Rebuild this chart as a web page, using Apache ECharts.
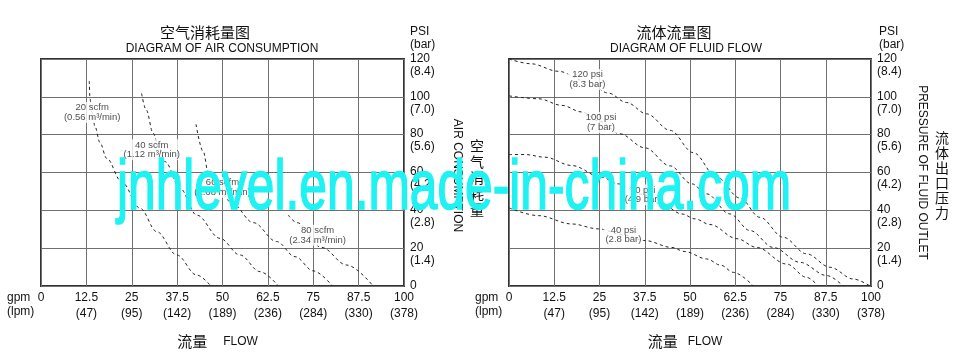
<!DOCTYPE html>
<html>
<head>
<meta charset="utf-8">
<script src="https://cdn.jsdelivr.net/npm/echarts@6/dist/echarts.min.js"></script>
<style>
html,body{margin:0;padding:0;background:#fff;}
#c{width:961px;height:355px;}
</style>
</head>
<body>
<div id="c"></div>
<script>
// ---- tick labels ----
const gpmTicks = [0, 12.5, 25, 37.5, 50, 62.5, 75, 87.5, 100];
const lpmTicks = ['', '(47)', '(95)', '(142)', '(189)', '(236)', '(284)', '(330)', '(378)'];
const psiTicks = [0, 20, 40, 60, 80, 100, 120];
const barTicks = ['', '(1.4)', '(2.8)', '(4.2)', '(5.6)', '(7.0)', '(8.4)'];
const yUnit = 'PSI\n(bar)';

// ---- air consumption curves [gpm, psi] ----
const air20 = [[13.3,108.4],[13.5,99],[14,92],[14.9,84.2],[16.2,76],[18.1,67.5],[22.2,55.1],[27.3,41.1],[31.9,28.7],[37.4,16.4],[42.9,5.8],[46.8,0]];
const air40 = [[27.7,101.8],[29,93],[30.9,80.7],[32.5,73],[34.2,65.7],[38.3,51.6],[42.9,37.5],[49.3,25.2],[54.8,16.4],[60.3,7.6],[65.4,0]];
const air60 = [[42.7,85.5],[44.7,71],[46.1,59.6],[49,51],[52.5,44],[58.5,33.5],[64.9,23.5],[70,15.5],[75,8],[80.3,0]];
const air80 = [[68.1,37.5],[70.5,33.5],[77.3,20.4],[84.2,11.1],[91.5,0]];
const airLabels = [[14.1,91.7,'20 scfm\n(0.56 m³/min)'],[30.5,72,'40 scfm\n(1.12 m³/min)'],[50,52.2,'60 scfm\n(1.68 m³/min)'],[76.2,26.8,'80 scfm\n(2.34 m³/min)']];

// ---- fluid flow curves [gpm, psi] ----
const fluid120 = [[0,120],[6,117.5],[13.6,113.5],[21.7,108],[27.4,102],[32.5,97],[38,91],[44.5,82.3],[50.9,70.5],[57.4,57.5],[63.8,46.5],[69.3,36.3],[75.8,25.7],[82.2,17],[88.7,9.9],[95.1,3.7],[99.7,0]];
const fluid100 = [[0,100.5],[8.1,99],[14.6,95.5],[20.1,92],[25.2,87],[30.5,80.5],[37.6,73],[44.5,63.5],[50.5,54],[54.6,48.7],[61,38.1],[66.6,29.3],[73,20.4],[80.4,12.5],[87.8,5.5],[92.3,0]];
const fluid70 = [[0,69.5],[4.4,69.5],[9.9,68.1],[17.3,63.7],[25.6,57.5],[30.2,54],[36.7,48.5],[42.4,43.2],[47.7,38.1],[51.4,35.5],[55.5,32.5],[63,25],[68.4,20.4],[76.7,11.6],[82.2,4.6],[85.4,0]];
const fluid40 = [[0,41.3],[8.1,37.2],[17.3,32.8],[24.7,30.2],[31.6,27],[37.6,24],[44.9,20.4],[48.6,18.2],[54.6,14.3],[58.5,11],[62,7.2],[67.5,0]];
const fluidLabels = [[21.7,109.2,'120 psi\n(8.3 bar)'],[25.4,86.4,'100 psi\n(7 bar)'],[36.9,48.3,'70 psi\n(4.9 bar)'],[31.6,27,'40 psi\n(2.8 bar)']];

const FONT = '"Liberation Sans", Arial, "Noto Sans CJK SC", sans-serif';
const CJK = '"Noto Sans CJK SC", "Liberation Sans", sans-serif';

function xLabel(v) {
  const i = gpmTicks.indexOf(v);
  return (i >= 0 && lpmTicks[i]) ? v + '\n' + lpmTicks[i] : String(v);
}
function yLabel(v) {
  const i = psiTicks.indexOf(v);
  return (i >= 0 && barTicks[i]) ? v + '\n' + barTicks[i] : String(v);
}

function makeX(gi, gap) {
  return {
    type: 'value', gridIndex: gi, min: 0, max: 100, interval: 12.5,
    axisLine: {show: false}, axisTick: {show: false},
    splitLine: {show: true, lineStyle: {color: '#707070', width: 1}},
    axisLabel: {formatter: xLabel, fontSize: 12, lineHeight: 16, color: '#111', margin: 4, fontFamily: FONT},
    name: '{c|流量}{e|FLOW}', nameLocation: 'middle', nameGap: 48,
    nameTextStyle: {
      padding: [0, 10, 0, 0],
      rich: {
        c: {fontSize: 15, fontFamily: CJK, color: '#111'},
        e: {fontSize: 12, fontFamily: FONT, color: '#111', padding: [0, 0, 0, gap]}
      }
    }
  };
}
function makeY(gi) {
  return {
    type: 'value', gridIndex: gi, position: 'right', min: 0, max: 120, interval: 20,
    axisLine: {show: false}, axisTick: {show: false},
    splitLine: {show: true, lineStyle: {color: '#707070', width: 1}},
    axisLabel: {formatter: yLabel, fontSize: 12, lineHeight: 13, color: '#111', margin: 6,
      align: 'left', verticalAlign: 'top', padding: [-7, 0, 0, 0], fontFamily: FONT}
  };
}
function curve(data, gi) {
  return {
    type: 'line', xAxisIndex: gi, yAxisIndex: gi, data: data,
    showSymbol: false, smooth: 0.35, smoothMonotone: 'x', silent: true, z: 2,
    lineStyle: {color: '#222', width: 1, type: [3, 3]}
  };
}
function labels(data, gi) {
  return {
    type: 'scatter', xAxisIndex: gi, yAxisIndex: gi, data: data, symbolSize: 1, z: 5,
    itemStyle: {color: 'rgba(0,0,0,0)'}, silent: true,
    label: {show: true, position: 'inside', formatter: p => p.data[2], fontSize: 9.5, lineHeight: 9.5,
      color: '#1a1a1a', fontFamily: FONT, backgroundColor: '#fff', padding: [1, 2]}
  };
}

const chart = echarts.init(document.getElementById('c'), null, {renderer: 'canvas'});
chart.setOption({
  animation: false,
  backgroundColor: '#fff',
  grid: [
    {left: 41, top: 59, width: 363, height: 227, show: true, borderColor: '#333', borderWidth: 2, backgroundColor: 'transparent'},
    {left: 509, top: 59, width: 362, height: 227, show: true, borderColor: '#333', borderWidth: 2, backgroundColor: 'transparent'}
  ],
  xAxis: [makeX(0, 16), makeX(1, 10)],
  yAxis: [makeY(0), makeY(1)],
  series: [
    curve(air20, 0), curve(air40, 0), curve(air60, 0), curve(air80, 0), labels(airLabels, 0),
    curve(fluid120, 1), curve(fluid100, 1), curve(fluid70, 1), curve(fluid40, 1), labels(fluidLabels, 1)
  ],
  graphic: [
    {type: 'text', x: 205, y: 32, style: {text: '空气消耗量图', font: '15px ' + CJK, fill: '#111', align: 'center', verticalAlign: 'middle'}},
    {type: 'text', x: 222, y: 49, style: {text: 'DIAGRAM OF AIR CONSUMPTION', font: '12px ' + FONT, fill: '#111', align: 'center', verticalAlign: 'middle'}},
    {type: 'text', x: 674, y: 32, style: {text: '流体流量图', font: '15px ' + CJK, fill: '#111', align: 'center', verticalAlign: 'middle'}},
    {type: 'text', x: 686, y: 49, style: {text: 'DIAGRAM OF FLUID FLOW', font: '12px ' + FONT, fill: '#111', align: 'center', verticalAlign: 'middle'}},
    {type: 'text', x: 410, y: 25.5, style: {text: yUnit, font: '12px ' + FONT, lineHeight: 13, fill: '#111', align: 'left', verticalAlign: 'top'}},
    {type: 'text', x: 879, y: 25.5, style: {text: yUnit, font: '12px ' + FONT, lineHeight: 13, fill: '#111', align: 'left', verticalAlign: 'top'}},
    {type: 'text', x: 7, y: 291, style: {text: 'gpm\n(lpm)', font: '12px ' + FONT, lineHeight: 14, fill: '#111', align: 'left', verticalAlign: 'top'}},
    {type: 'text', x: 475, y: 291, style: {text: 'gpm\n(lpm)', font: '12px ' + FONT, lineHeight: 14, fill: '#111', align: 'left', verticalAlign: 'top'}},
    {type: 'text', x: 457, y: 175.5, rotation: -Math.PI / 2, style: {text: 'AIR CONSUMPTION', font: '12px ' + FONT, fill: '#111', align: 'center', verticalAlign: 'middle'}},
    {type: 'text', x: 477, y: 178, style: {text: '空\n气\n消\n耗\n量', font: '14px ' + CJK, lineHeight: 16, fill: '#111', align: 'center', verticalAlign: 'middle'}},
    {type: 'text', x: 922, y: 172.5, rotation: -Math.PI / 2, style: {text: 'PRESSURE OF FLUID OUTLET', font: '12px ' + FONT, fill: '#111', align: 'center', verticalAlign: 'middle'}},
    {type: 'text', x: 942, y: 175.5, style: {text: '流\n体\n出\n口\n压\n力', font: '14px ' + CJK, lineHeight: 15, fill: '#111', align: 'center', verticalAlign: 'middle'}},
    {type: 'text', x: 117, y: 189, scaleX: 0.7, z: 100, style: {text: 'jnhlevel.en.made-in-china.com', font: '71px ' + FONT, fill: '#1ef2f2', stroke: '#1ef2f2', lineWidth: 1.6, align: 'left', verticalAlign: 'middle'}}
  ]
});
</script>
</body>
</html>
